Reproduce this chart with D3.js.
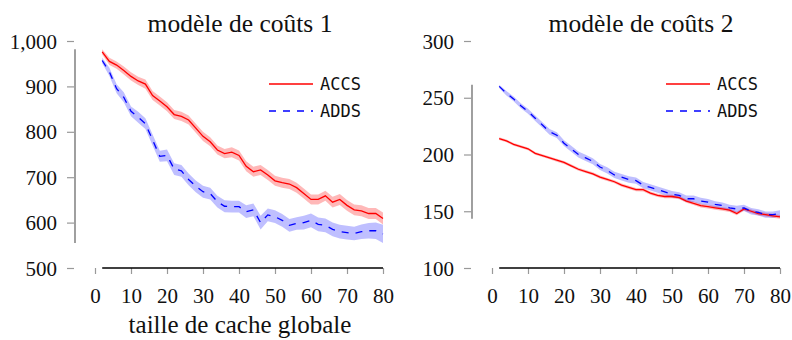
<!DOCTYPE html>
<html><head><meta charset="utf-8">
<script src="https://cdn.jsdelivr.net/npm/d3@7/dist/d3.min.js"></script>
<style>
body{margin:0;background:#fff;}
svg{display:block;}
</style></head>
<body><svg id="chart" width="792" height="340"></svg>
<script>
const cacheSizes = [2,4,6,8,10,12,14,16,18,20,22,24,26,28,30,32,34,36,38,40,42,44,46,48,50,52,54,56,58,60,62,64,66,68,70,72,74,76,78,80];
const xTicks = [0,10,20,30,40,50,60,70,80];

// modèle de coûts 1
const accs1 = [976,955,947,935,922,912,905,880,868,855,838,834,826,808,790,778,760,752,755,748,724,712,716,705,692,688,685,677,664,651,651,659,645,651,638,628,626,620,620,609];
const accs1Band = [6,8,8,9,9,9,10,10,10,10,10,10,10,10,10,10,10,10,11,11,11,11,11,11,11,11,11,11,11,11,11,11,12,12,12,12,12,12,12,13];
const adds1 = [957,932,895,876,845,832,818,782,746,748,718,714,695,680,668,664,646,636,635,635,624,628,600,617,613,605,594,598,600,605,596,594,585,580,578,576,580,582,582,575];
const adds1Band = [6,9,10,11,11,12,12,12,12,13,13,13,13,13,13,13,13,13,13,13,14,14,15,14,14,14,14,14,15,15,15,15,15,15,15,15,16,17,18,20];
const yTicks1 = [500,600,700,800,900,1000];

// modèle de coûts 2
const accs2 = [214,212,209,207,205,201,199,197,195,193,190,187,185,183,180,178,176,173,171,169,169,166,164,163,163,162,159,157,155,154,153,152,151,148,152,150,148,147,146,145];
const accs2Band = [1.2,1.2,1.2,1.2,1.2,1.2,1.2,1.2,1.3,1.3,1.3,1.3,1.3,1.3,1.4,1.4,1.4,1.4,1.4,1.4,1.5,1.5,1.5,1.5,1.5,1.5,1.5,1.5,1.6,1.6,1.6,1.6,1.6,1.6,1.6,1.6,1.7,1.7,1.7,1.7];
const adds2 = [260,254,249,243,238,232,226,220,217,210,205,200,197,194,189,186,182,180,178,177,173,171,169,167,165,164,161,161,159,158,156,155,153,152,153,150,149,147,147,148];
const adds2Band = [1.5,2,2,2.2,2.2,2.4,2.5,2.5,2.5,2.6,2.6,2.6,2.7,2.7,2.7,2.7,2.8,2.8,2.8,2.8,2.8,2.8,2.8,2.8,2.8,2.8,2.8,2.8,2.8,2.8,2.8,2.8,2.8,2.8,2.8,2.8,2.8,2.8,2.8,2.8];
const yTicks2 = [100,150,200,250,300];

const titles = ["modèle de coûts 1", "modèle de coûts 2"];
const seriesNames = ["ACCS", "ADDS"];
const xLabel = "taille de cache globale";

const svg = d3.select("#chart");
const serif = "'Liberation Serif', 'Times New Roman', serif";

function panel(cfg) {
  const x = d3.scaleLinear().domain([0, 80]).range([cfg.x0, cfg.x0 + 288]);
  const y = d3.scaleLinear().domain(cfg.yDomain).range([268, 41]);
  const g = svg.append("g");

  const series = [
    {vals: cfg.accs, band: cfg.accsBand, color: "#ff0000", fill: "rgba(255,0,0,0.28)", dash: null},
    {vals: cfg.adds, band: cfg.addsBand, color: "#0000ff", fill: "rgba(0,0,255,0.25)", dash: "7,7"}
  ];

  series.forEach(s => {
    const area = d3.area()
      .x((d, i) => x(cacheSizes[i]))
      .y0((d, i) => y(d - s.band[i]))
      .y1((d, i) => y(d + s.band[i]));
    g.append("path").datum(s.vals).attr("d", area).attr("fill", s.fill).attr("stroke", "none");
  });
  series.forEach(s => {
    const line = d3.line().x((d, i) => x(cacheSizes[i])).y(d => y(d));
    g.append("path").datum(s.vals).attr("d", line)
      .attr("fill", "none").attr("stroke", s.color).attr("stroke-width", 1.3)
      .attr("stroke-dasharray", s.dash);
  });

  // y axis
  const yAx = g.append("g").attr("transform", `translate(${cfg.x0 - 21},0)`)
    .call(d3.axisLeft(y).tickValues(cfg.yTicks).tickSize(7).tickPadding(10).tickFormat(d3.format(",")));
  yAx.select(".domain").remove();
  yAx.selectAll(".tick line").attr("stroke", "#999").attr("stroke-width", 1.2);
  yAx.selectAll(".tick text").attr("font-family", serif).attr("font-size", 21).attr("fill", "#111").attr("dy", "0.34em");
  let lo = Infinity, hi = -Infinity;
  series.forEach(s => s.vals.forEach((v, i) => { lo = Math.min(lo, v - s.band[i]); hi = Math.max(hi, v + s.band[i]); }));
  g.append("line").attr("x1", cfg.x0 - 20).attr("x2", cfg.x0 - 20)
    .attr("y1", y(hi)).attr("y2", y(lo)).attr("stroke", "#888").attr("stroke-width", 1.6);

  // x axis
  const xAx = g.append("g").attr("transform", "translate(0,268)")
    .call(d3.axisBottom(x).tickValues(xTicks).tickSize(6).tickPadding(14));
  xAx.select(".domain").remove();
  xAx.selectAll(".tick line").attr("stroke", "#999").attr("stroke-width", 1.2);
  xAx.selectAll(".tick text").attr("font-family", serif).attr("font-size", 21).attr("fill", "#111");
  g.append("line").attr("x1", x(cacheSizes[0])).attr("x2", x(cacheSizes[cacheSizes.length - 1]))
    .attr("y1", 268).attr("y2", 268).attr("stroke", "#000").attr("stroke-width", 1.4);

  // title
  g.append("text").attr("x", cfg.titleX).attr("y", 32).attr("text-anchor", "middle")
    .attr("font-family", serif).attr("font-size", 25.5).attr("fill", "#111").text(cfg.title);

  // legend
  series.forEach((s, i) => {
    const ly = 84 + i * 27;
    g.append("line").attr("x1", cfg.legX).attr("x2", cfg.legX + 44).attr("y1", ly).attr("y2", ly)
      .attr("stroke", s.color).attr("stroke-width", 1.4).attr("stroke-dasharray", s.dash);
    g.append("text").attr("x", cfg.legX + 51).attr("y", ly + 6)
      .attr("font-family", "'DejaVu Sans Mono', monospace").attr("font-size", 17).attr("fill", "#111")
      .text(seriesNames[i]);
  });
  return x;
}

panel({x0: 95, yDomain: [500, 1000], yTicks: yTicks1, accs: accs1, accsBand: accs1Band,
  adds: adds1, addsBand: adds1Band, title: titles[0], titleX: 240, legX: 269});
panel({x0: 492, yDomain: [100, 300], yTicks: yTicks2, accs: accs2, accsBand: accs2Band,
  adds: adds2, addsBand: adds2Band, title: titles[1], titleX: 641, legX: 666});

svg.append("text").attr("x", 240).attr("y", 333).attr("text-anchor", "middle")
  .attr("font-family", serif).attr("font-size", 25).attr("fill", "#111").text(xLabel);
</script>
</body></html>
